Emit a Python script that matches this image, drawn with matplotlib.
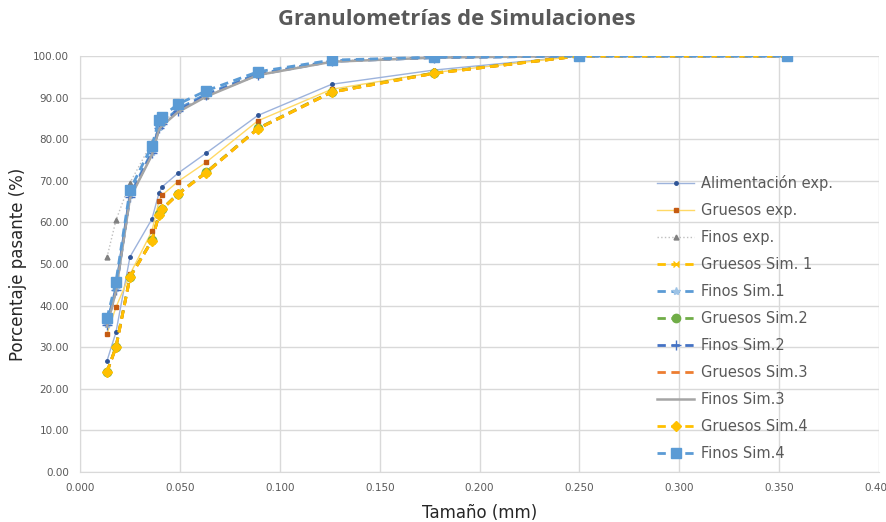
import matplotlib
matplotlib.use("Agg")
import matplotlib.pyplot as plt
from matplotlib.ticker import FormatStrFormatter, MultipleLocator

# === datos ===
tamanos = [0.0135, 0.018, 0.025, 0.036, 0.0395, 0.041, 0.049, 0.063, 0.089, 0.126, 0.177, 0.250, 0.354]

alim_exp = [26.7, 33.6, 51.7, 60.8, 67.0, 68.5, 71.8, 76.6, 85.7, 93.2, 96.6, 100.0, 100.0]
gruesos_exp = [33.2, 39.6, 47.5, 57.9, 65.1, 66.5, 69.8, 74.4, 84.4, 92.0, 96.0, 100.0, 100.0]
finos_exp = [51.6, 60.5, 69.5, 79.2, 83.0, 84.0, 87.0, 90.3, 95.5, 98.8, 99.6, 100.0, 100.0]

gruesos_sim1 = [24.0, 30.0, 46.8, 55.6, 61.8, 63.1, 66.8, 71.9, 82.5, 91.3, 95.8, 100.0, 100.0]
finos_sim1 = [35.6, 44.2, 66.6, 77.0, 83.0, 84.0, 87.2, 90.8, 95.7, 98.8, 99.6, 100.0, 100.0]
gruesos_sim2 = [24.1, 30.1, 46.9, 55.7, 61.9, 63.2, 66.9, 72.0, 82.6, 91.4, 95.9, 100.0, 100.0]
finos_sim2 = [35.3, 43.8, 66.2, 76.6, 82.6, 83.6, 86.8, 90.5, 95.5, 98.7, 99.6, 100.0, 100.0]
gruesos_sim3 = [24.0, 30.0, 46.8, 55.6, 61.8, 63.1, 66.8, 71.9, 82.5, 91.3, 95.8, 100.0, 100.0]
finos_sim3 = [35.0, 43.5, 65.8, 76.2, 82.3, 83.2, 86.5, 90.2, 95.4, 98.6, 99.6, 100.0, 100.0]
gruesos_sim4 = [24.0, 30.0, 46.8, 55.6, 61.8, 63.1, 66.8, 71.9, 82.5, 91.3, 95.8, 100.0, 100.0]
finos_sim4 = [36.9, 45.7, 67.8, 78.4, 84.5, 85.4, 88.4, 91.6, 96.2, 99.0, 99.7, 100.0, 100.0]

# === figura ===
fig = plt.figure(figsize=(8.86, 5.22), dpi=100)
ax = fig.add_axes([0.0903, 0.0958, 0.902, 0.797])

ax.plot(tamanos, alim_exp, color="#9DB3DC", lw=1.0, marker="o", ms=2.5,
        mfc="#2F5597", mec="#2F5597", label="Alimentación exp.")
ax.plot(tamanos, gruesos_exp, color="#FFD966", lw=1.0, marker="s", ms=2.5,
        mfc="#C55A11", mec="#C55A11", label="Gruesos exp.")
ax.plot(tamanos, finos_exp, color="#BFBFBF", lw=1.0, ls=":", marker="^", ms=3.5,
        mfc="#808080", mec="#808080", label="Finos exp.")
ax.plot(tamanos, gruesos_sim1, color="#FFC000", lw=2.0, ls=(0, (3, 2)), marker="x", ms=5,
        mec="#FFC000", label="Gruesos Sim. 1")
ax.plot(tamanos, finos_sim1, color="#5B9BD5", lw=2.0, ls=(0, (3, 2)), marker="*", ms=6,
        mfc="#9DC3E6", mec="#9DC3E6", label="Finos Sim.1")
ax.plot(tamanos, gruesos_sim2, color="#70AD47", lw=2.0, ls=(0, (3, 2)), marker="o", ms=6,
        mfc="#70AD47", mec="#70AD47", label="Gruesos Sim.2")
ax.plot(tamanos, finos_sim2, color="#4472C4", lw=2.0, ls=(0, (3, 2)), marker="+", ms=7,
        mec="#4472C4", label="Finos Sim.2")
ax.plot(tamanos, gruesos_sim3, color="#ED7D31", lw=2.0, ls=(0, (3, 2)), label="Gruesos Sim.3")
ax.plot(tamanos, finos_sim3, color="#A5A5A5", lw=1.8, ls="-", label="Finos Sim.3")
ax.plot(tamanos, gruesos_sim4, color="#FFC000", lw=2.0, ls=(0, (3, 2)), marker="D", ms=5,
        mfc="#FFC000", mec="#FFC000", label="Gruesos Sim.4")
ax.plot(tamanos, finos_sim4, color="#5B9BD5", lw=2.0, ls=(0, (3, 2)), marker="s", ms=6.5,
        mfc="#5B9BD5", mec="#5B9BD5", label="Finos Sim.4")

ax.set_xlim(0, 0.4)
ax.set_ylim(0, 100)
ax.xaxis.set_major_locator(MultipleLocator(0.05))
ax.yaxis.set_major_locator(MultipleLocator(10))
ax.xaxis.set_major_formatter(FormatStrFormatter("%.3f"))
ax.yaxis.set_major_formatter(FormatStrFormatter("%.2f"))
ax.grid(True, color="#D9D9D9", lw=1.0)
ax.set_axisbelow(True)
ax.tick_params(length=0, labelsize=7.5, labelcolor="#595959", pad=8)
for s in ["top", "right"]:
    ax.spines[s].set_visible(False)
for s in ["left", "bottom"]:
    ax.spines[s].set_color("#D9D9D9")

ax.set_xlabel("Tamaño (mm)", fontsize=12, color="#262626", labelpad=8)
ax.set_ylabel("Porcentaje pasante (%)", fontsize=12, color="#262626", labelpad=4)
fig.suptitle("Granulometrías de Simulaciones", x=0.516, y=0.983, fontsize=15.8,
             fontweight="bold", color="#595959", family="Open Sans")

leg = ax.legend(loc="upper left", bbox_to_anchor=(0.705, 0.745), frameon=False,
                fontsize=10.5, handlelength=2.6, labelspacing=0.82, handletextpad=0.45)
for t in leg.get_texts():
    t.set_color("#595959")

fig.savefig("out.png", dpi=100)
